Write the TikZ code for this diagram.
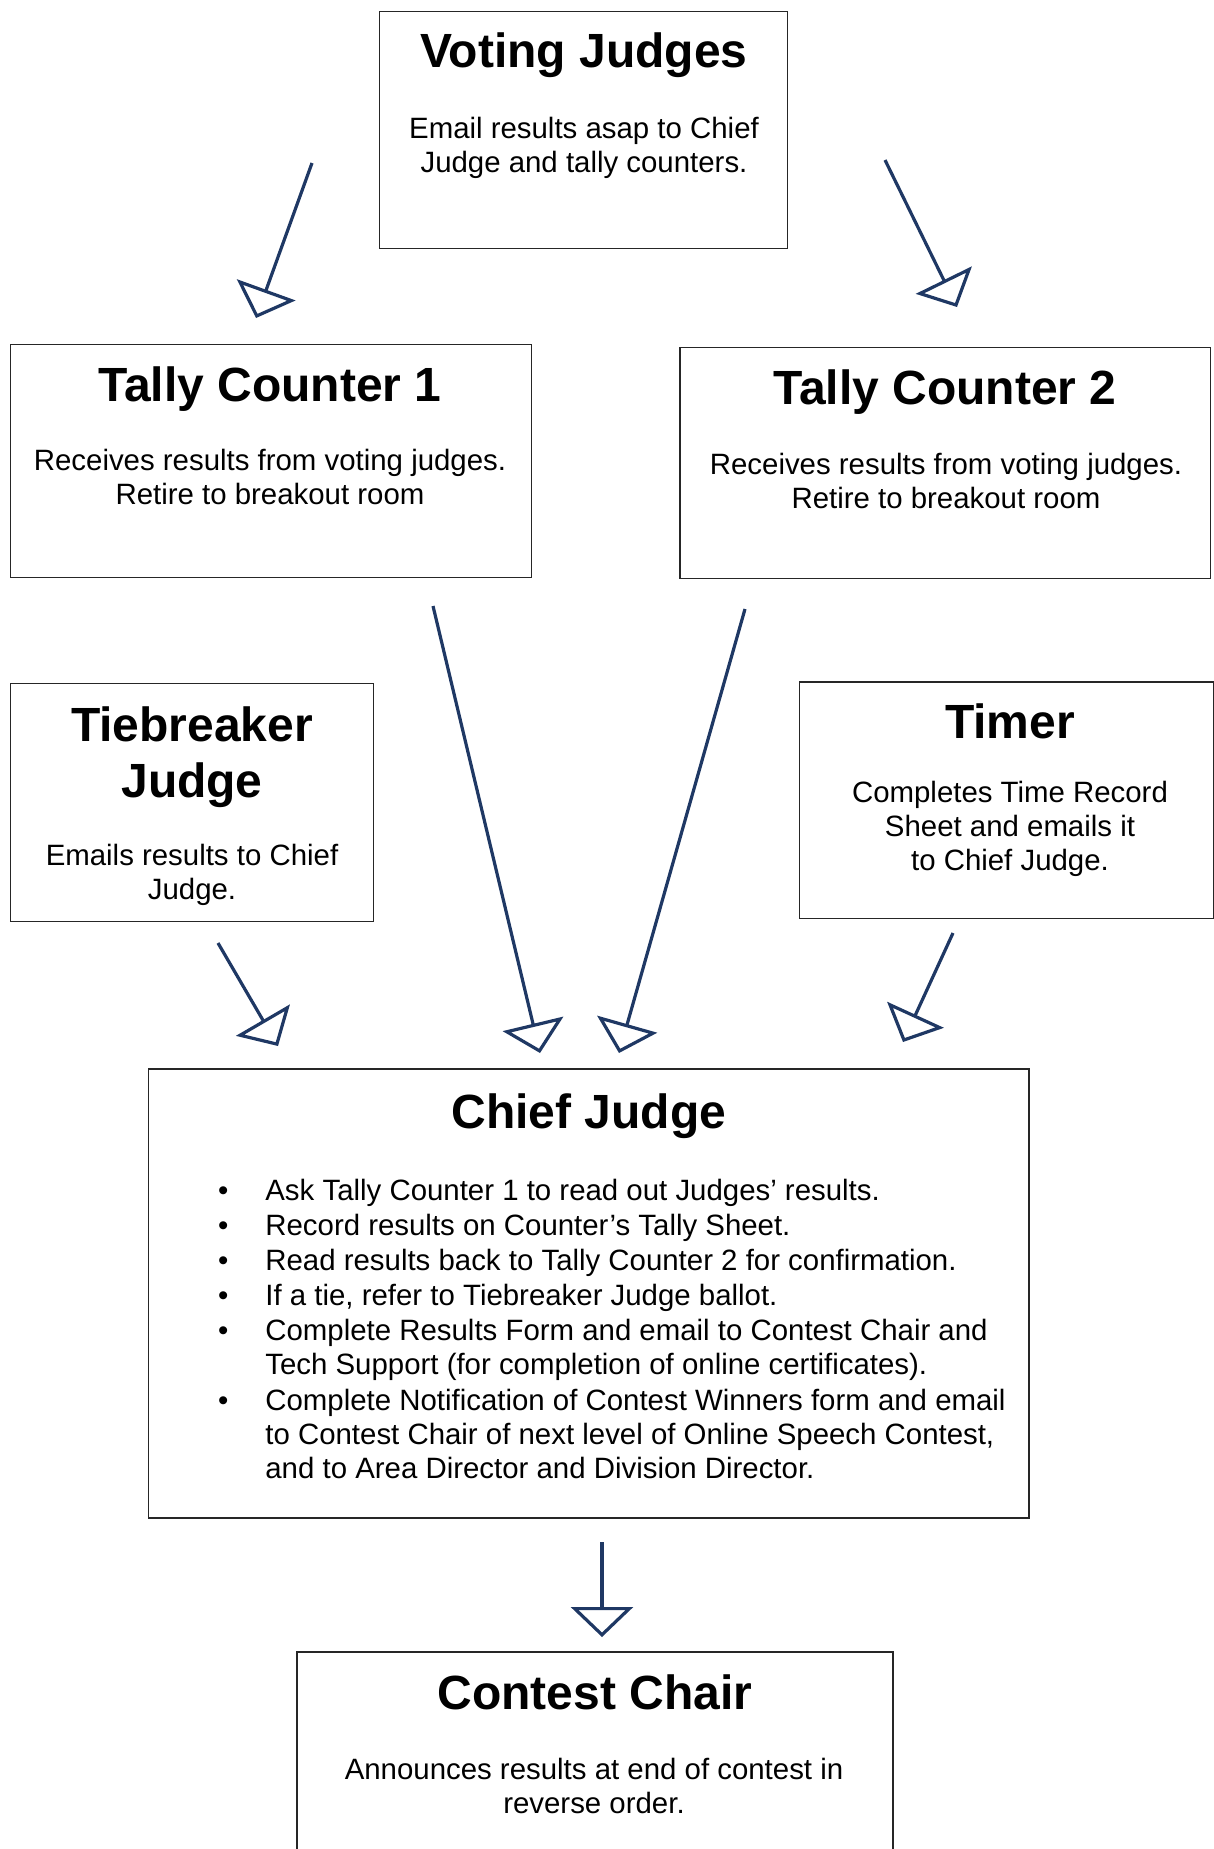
\documentclass[tikz,border=0pt]{standalone}
\usepackage{fontspec}
\setmainfont{Liberation Sans}
\usetikzlibrary{arrows.meta}
\definecolor{flowblue}{HTML}{1F3864}
\definecolor{frame}{HTML}{262626}

\begin{document}
\begin{tikzpicture}[x=0.5pt,y=-0.5pt,
  box/.style={draw=frame,line width=0.7pt,inner sep=0pt},
  ttl/.style={font=\bfseries\fontsize{24}{28}\selectfont,align=center,inner sep=0pt,anchor=base},
  txt/.style={font=\fontsize{14.7}{17}\selectfont,align=center,inner sep=0pt,anchor=base},
  flow/.style={flowblue,line width=1.6pt,-{Triangle[open,length=15pt,width=31pt]}}]
  \useasboundingbox (0,0) rectangle (1214,1849);
  \clip (0,0) rectangle (1214,1849);
  % boxes
  \node[box,minimum width=203.9pt,minimum height=118.5pt] (vj) at (583.4,130.2) {};
  \node[box,minimum width=260.5pt,minimum height=116.7pt] (tc1) at (271,460.9) {};
  \node[box,minimum width=265.2pt,minimum height=115.5pt] (tc2) at (945.2,463.2) {};
  \node[box,minimum width=181.5pt,minimum height=119pt] (tb) at (192.1,802.6) {};
  \node[box,minimum width=207pt,minimum height=118.3pt] (tm) at (1006.5,800.3) {};
  \node[box,minimum width=440.3pt,minimum height=224.5pt] (cj) at (588.8,1293.5) {};
  \node[box,minimum width=298pt,minimum height=114pt] (cc) at (595,1766) {};
  % texts (multi-line nodes sit on their last baseline)
  \node[ttl] (vj-t) at (584,67) {Voting Judges};
  \node[txt] (vj-b) at (584,172) {Email results asap to Chief\\Judge and tally counters.};
  \node[ttl] (tc1-t) at (270,401) {Tally Counter 1};
  \node[txt] (tc1-b) at (270,504) {Receives results from voting judges.\\Retire to breakout room};
  \node[ttl] (tc2-t) at (945,404) {Tally Counter 2};
  \node[txt] (tc2-b) at (946,508) {Receives results from voting judges.\\Retire to breakout room};
  \node[ttl] (tb-t) at (192,797) {Tiebreaker\\Judge};
  \node[txt] (tb-b) at (192,899) {Emails results to Chief\\Judge.};
  \node[ttl] (tm-t) at (1010,738) {Timer};
  \node[txt] (tm-b) at (1010,870) {Completes Time Record\\Sheet and emails it\\to Chief Judge.};
  \node[ttl] (cj-t) at (589,1128) {Chief Judge};
  \node[txt,align=left,anchor=base west] (cj-b) at (265,1478) {%
    \llap{\textbullet\hspace{18.5pt}}Ask Tally Counter 1 to read out Judges’ results.\\[0.6pt]
    \llap{\textbullet\hspace{18.5pt}}Record results on Counter’s Tally Sheet.\\[0.6pt]
    \llap{\textbullet\hspace{18.5pt}}Read results back to Tally Counter 2 for confirmation.\\[0.6pt]
    \llap{\textbullet\hspace{18.5pt}}If a tie, refer to Tiebreaker Judge ballot.\\[0.6pt]
    \llap{\textbullet\hspace{18.5pt}}Complete Results Form and email to Contest Chair and\\
    Tech Support (for completion of online certificates).\\[0.6pt]
    \llap{\textbullet\hspace{18.5pt}}Complete Notification of Contest Winners form and email\\
    to Contest Chair of next level of Online Speech Contest,\\
    and to Area Director and Division Director.};
  \node[ttl] (cc-t) at (595,1709) {Contest Chair};
  \node[txt] (cc-b) at (594,1813) {Announces results at end of contest in\\reverse order.};
  % arrow ends
  \coordinate (a1) at (312,163);  \coordinate (b1) at (256,318);
  \coordinate (a2) at (885,160);  \coordinate (b2) at (957,307);
  \coordinate (a3) at (218,943);  \coordinate (b3) at (278,1046);
  \coordinate (a4) at (433,606);  \coordinate (b4) at (540,1053);
  \coordinate (a5) at (745,609);  \coordinate (b5) at (619,1053);
  \coordinate (a6) at (953,933);  \coordinate (b6) at (903,1042);
  \coordinate (a7) at (602,1542); \coordinate (b7) at (602,1637);
  % arrows
  \foreach \i in {1,...,7}
    \draw[flow] (a\i) -- (b\i);
\end{tikzpicture}
\end{document}
